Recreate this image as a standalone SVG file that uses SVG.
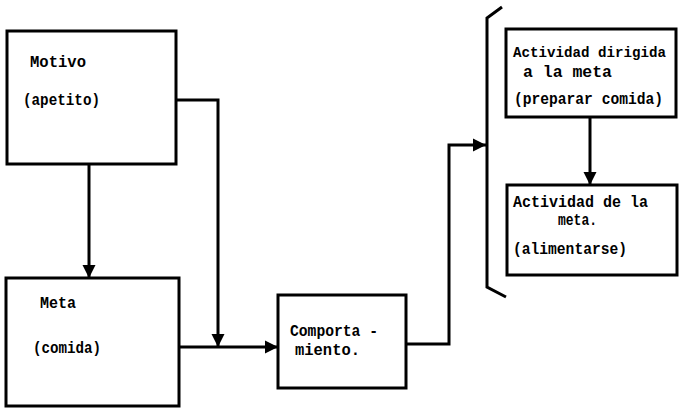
<svg xmlns="http://www.w3.org/2000/svg" width="682" height="408" viewBox="0 0 682 408">
<style>
.box{fill:none;stroke:#000;stroke-width:3}
.ln{fill:none;stroke:#000;stroke-width:3}
.t{font-family:"Liberation Mono","DejaVu Sans Mono",monospace;font-weight:bold;font-size:16px;fill:#000}
</style>
<defs>
<marker id="ah" viewBox="0 0 10 10" refX="10" refY="5" markerWidth="4.5" markerHeight="4.5" orient="auto" markerUnits="strokeWidth">
<path d="M0,0 L10,5 L0,10 z" fill="#000"/>
</marker>
</defs>
<rect width="682" height="408" fill="#fff"/>
<g id="connectors">
<path class="ln" d="M89,164 V278" marker-end="url(#ah)"/>
<path class="ln" d="M176,100 H218 V347" marker-end="url(#ah)"/>
<path class="ln" d="M179,347 H278" marker-end="url(#ah)"/>
<path class="ln" d="M406,344 H449 V145 H486" marker-end="url(#ah)"/>
<path class="ln" d="M590,117 V185" marker-end="url(#ah)"/>
<path class="ln" d="M502,7 L487,18 V287 L506,297"/>
</g>
<g id="motivo">
<rect class="box" x="7" y="31" width="169" height="133"/>
<text class="t" x="30" y="67" textLength="56" lengthAdjust="spacingAndGlyphs">Motivo</text>
<text class="t" x="23" y="105" textLength="77" lengthAdjust="spacingAndGlyphs">(apetito)</text>
</g>
<g id="meta">
<rect class="box" x="6" y="278" width="173" height="128"/>
<text class="t" x="40" y="308" textLength="36" lengthAdjust="spacingAndGlyphs">Meta</text>
<text class="t" x="33" y="353" textLength="68" lengthAdjust="spacingAndGlyphs">(comida)</text>
</g>
<g id="comportamiento">
<rect class="box" x="278" y="295" width="128" height="93"/>
<text class="t" x="290" y="336" textLength="88" lengthAdjust="spacingAndGlyphs">Comporta -</text>
<text class="t" x="295" y="355" textLength="65" lengthAdjust="spacingAndGlyphs">miento.</text>
</g>
<g id="actividad-dirigida">
<rect class="box" x="506" y="29" width="170" height="88"/>
<text class="t" x="513" y="57" style="font-size:14.5px" textLength="153" lengthAdjust="spacingAndGlyphs">Actividad dirigida</text>
<text class="t" x="523" y="77" textLength="89" lengthAdjust="spacingAndGlyphs">a la meta</text>
<text class="t" x="514" y="104" textLength="149" lengthAdjust="spacingAndGlyphs">(preparar comida)</text>
</g>
<g id="actividad-meta">
<rect class="box" x="507" y="185" width="170" height="90"/>
<text class="t" x="513" y="207" textLength="135" lengthAdjust="spacingAndGlyphs">Actividad de la</text>
<text class="t" x="558" y="225" textLength="39" lengthAdjust="spacingAndGlyphs">meta.</text>
<text class="t" x="513" y="254" textLength="114" lengthAdjust="spacingAndGlyphs">(alimentarse)</text>
</g>
</svg>
